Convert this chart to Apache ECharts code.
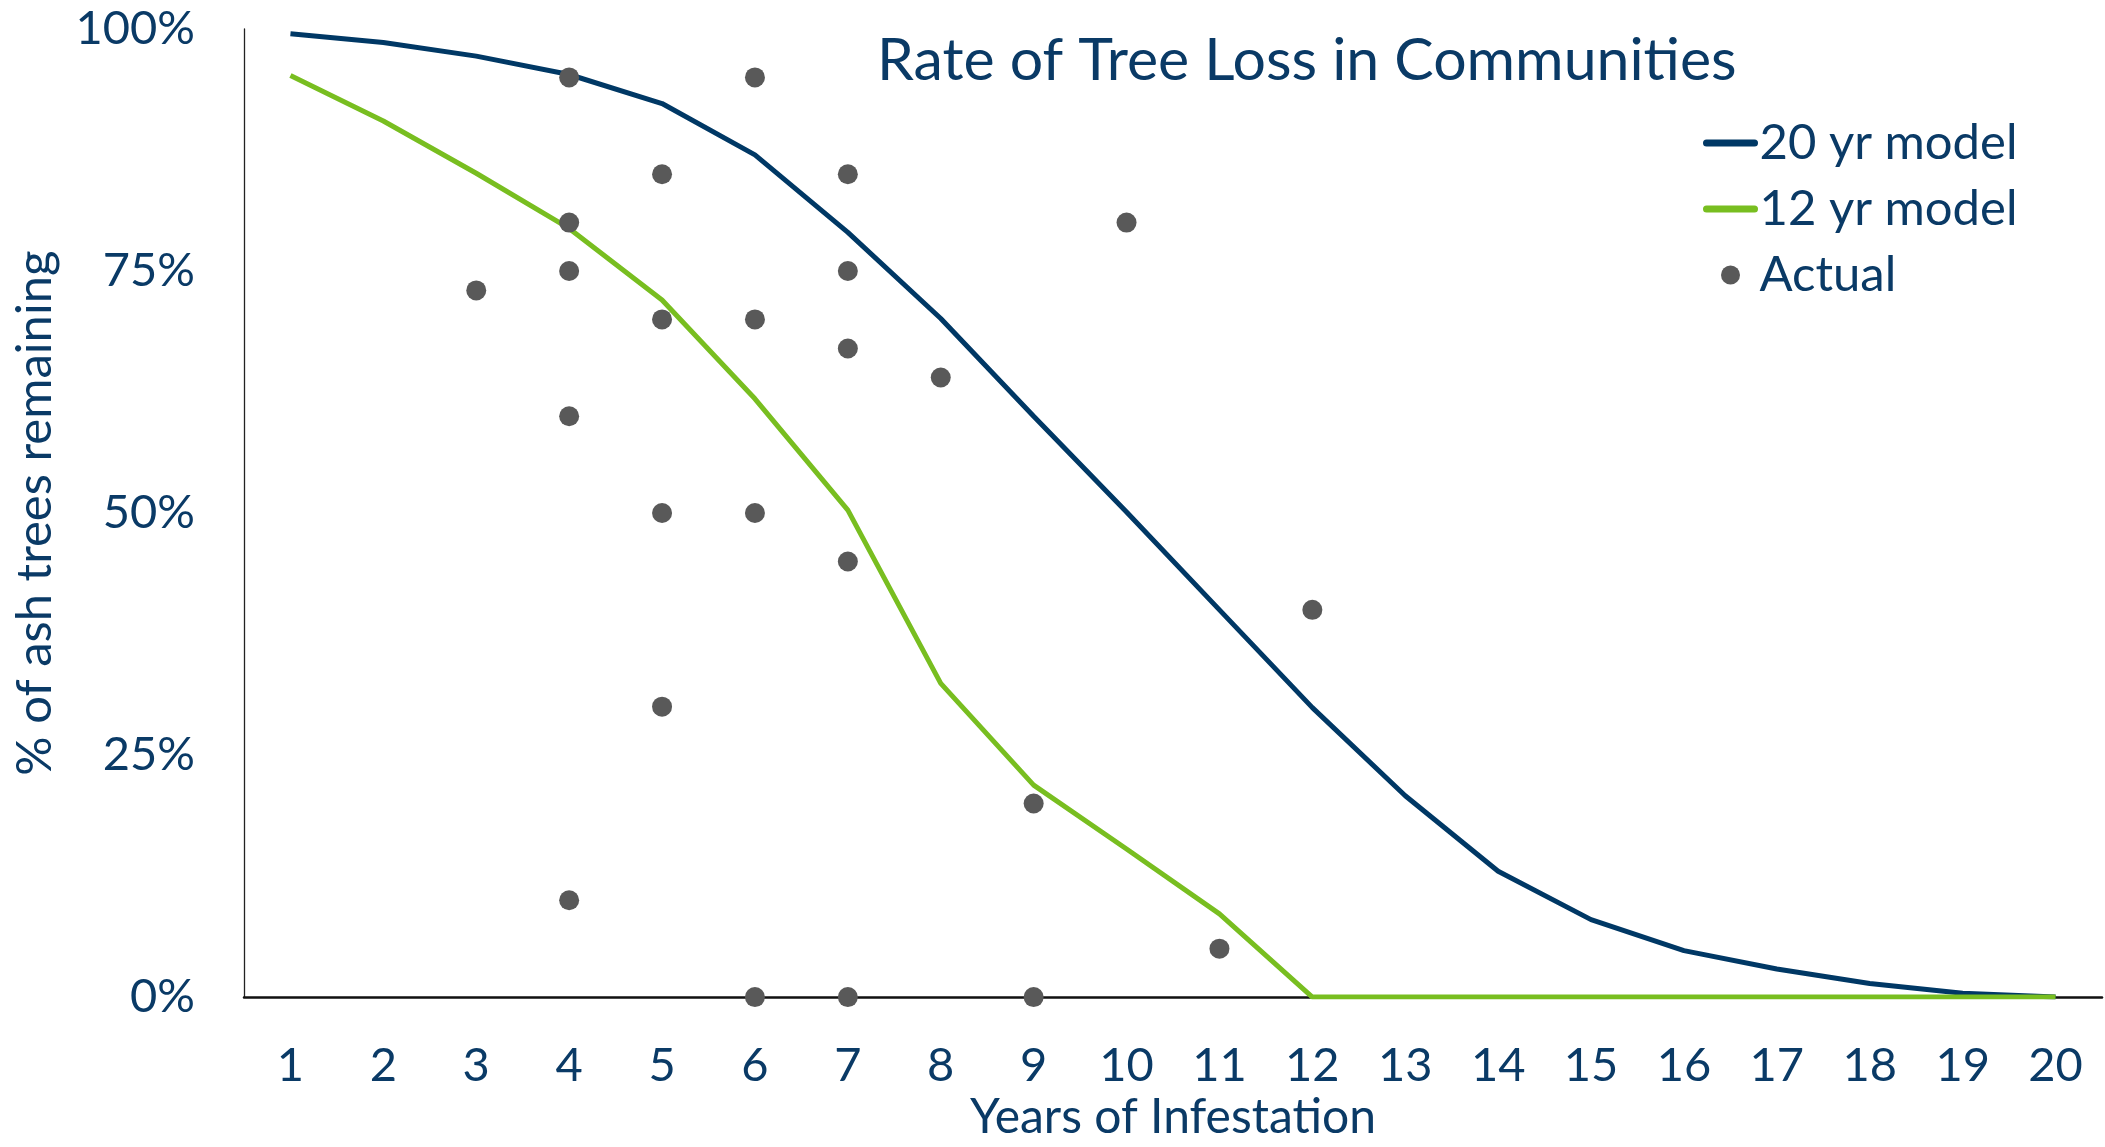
<!DOCTYPE html>
<html>
<head>
<meta charset="utf-8">
<script src="https://cdn.jsdelivr.net/npm/echarts@6/dist/echarts.min.js"></script>
<style>
html,body{margin:0;padding:0;background:#fff;}
#chart{width:2105px;height:1147px;}
</style>
</head>
<body>
<div id="chart"></div>
<script>
const years = ['1','2','3','4','5','6','7','8','9','10','11','12','13','14','15','16','17','18','19','20'];
const model20 = [99.5, 98.6, 97.2, 95.3, 92.3, 87.0, 79.0, 70.1, 60.0, 50.1, 40.0, 29.9, 20.8, 13.0, 8.0, 4.8, 2.9, 1.4, 0.4, 0];
const model12 = [95.2, 90.5, 85.1, 79.4, 72.0, 61.8, 50.3, 32.4, 21.9, 15.3, 8.6, 0, 0, 0, 0, 0, 0, 0, 0, 0];
const actualYears = ['3','4','4','4','4','4','5','5','5','5','6','6','6','6','7','7','7','7','7','8','9','9','10','11','12'];
const actualValues = [73, 95, 80, 75, 60, 10, 85, 70, 50, 30, 95, 70, 50, 0, 85, 75, 67, 45, 0, 64, 20, 0, 80, 5, 40];
const yTicks = ['0%','25%','50%','75%','100%'];

const navy = '#003865';
const textColor = '#0a3a66';
const green = '#78be20';
const dotColor = '#595959';
const FONT = 'Lato';

const chart = echarts.init(document.getElementById('chart'));
chart.setOption({
  backgroundColor: '#ffffff',
  animation: false,
  textStyle: { fontFamily: FONT, color: textColor },
  title: {
    text: 'Rate of Tree Loss in Communities',
    left: 872, top: 26,
    textStyle: { fontFamily: FONT, fontSize: 59, fontWeight: 'normal', color: textColor }
  },
  legend: {
    orient: 'vertical',
    left: 1698, top: 112,
    itemWidth: 48, itemHeight: 19, itemGap: 14, itemTextGap: 7,
    textStyle: { fontFamily: FONT, fontSize: 49, color: textColor, lineHeight: 52 },
    data: [
      { name: '20 yr model', itemStyle: { opacity: 0 }, lineStyle: { width: 7, cap: 'round', color: navy } },
      { name: '12 yr model', itemStyle: { opacity: 0 }, lineStyle: { width: 7, cap: 'round', color: green } },
      { name: 'Actual', icon: 'circle' }
    ]
  },
  grid: { left: 244, right: 3, top: 29, bottom: 141, containLabel: false },
  xAxis: {
    type: 'category',
    data: years,
    boundaryGap: true,
    axisLine: { lineStyle: { color: '#111', width: 2.5 } },
    axisTick: { show: false },
    axisLabel: { fontFamily: FONT, fontSize: 47, color: textColor, margin: 45 },
    name: 'Years of Infestation',
    nameLocation: 'middle',
    nameGap: 91,
    nameTextStyle: { fontFamily: FONT, fontSize: 48, color: textColor }
  },
  yAxis: {
    type: 'value',
    min: 0, max: 100, interval: 25,
    splitLine: { show: false },
    axisLine: { show: true, lineStyle: { color: '#222', width: 1.3 } },
    axisTick: { show: false },
    axisLabel: {
      fontFamily: FONT, fontSize: 47, color: textColor, margin: 49,
      formatter: function (v) { return yTicks[Math.round(v / 25)]; }
    },
    name: '% of ash trees remaining',
    nameLocation: 'middle',
    nameGap: 184,
    nameTextStyle: { fontFamily: FONT, fontSize: 49, color: textColor }
  },
  series: [
    {
      name: '20 yr model', type: 'line', data: model20,
      symbol: 'none', lineStyle: { color: navy, width: 5 }, itemStyle: { color: navy }, z: 2
    },
    {
      name: '12 yr model', type: 'line', data: model12,
      symbol: 'none', lineStyle: { color: green, width: 5 }, itemStyle: { color: green }, z: 2
    },
    {
      name: 'Actual', type: 'scatter',
      data: actualYears.map((y, i) => [y, actualValues[i]]),
      symbol: 'circle', symbolSize: 20,
      itemStyle: { color: dotColor, opacity: 1 }, z: 3
    }
  ]
});
</script>
</body>
</html>
